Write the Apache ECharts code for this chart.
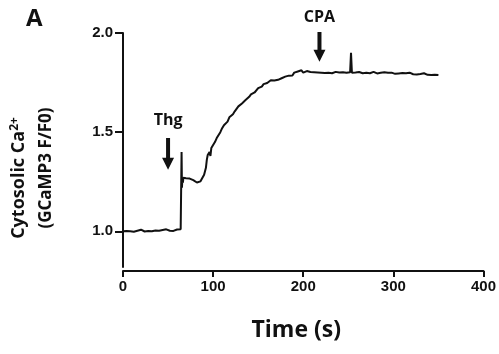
<!DOCTYPE html>
<html><head><meta charset="utf-8">
<script src="https://cdn.jsdelivr.net/npm/echarts@6/dist/echarts.min.js"></script>
<style>html,body{margin:0;padding:0;background:#fff}#c{width:499px;height:354px}</style>
</head><body><div id="c"></div>
<script>
// time (s)
var timeS = [
 0,2,4,6,8,10,12,14,16,18,20,22,24,26,28,30,32,34,36,38,40,42,44,46,48,50,52,54,56,58,60,62,64,
 64.8,65,65.4,65.8,66.5,67,68,70,72,74,76,78,80,82,84,86,88,90,92,93,94,96,97,98,100,102,104,106,108,110,
 112,114,116,118,120,122,124,126,128,130,132,134,136,138,140,142,144,146,148,150,152,154,156,158,160,
 162,164,166,168,170,172,174,176,178,180,182,184,186,188,190,192,194,196,198,200,202,204,206,208,210,
 212,214,216,218,220,222,224,226,228,230,232,234,236,238,240,242,244,246,248,250,252,253,254,256,258,260,
 262,264,266,268,270,272,274,276,278,280,282,284,286,288,290,292,294,296,298,300,302,304,306,308,310,
 312,314,316,318,320,322,324,326,328,330,332,334,336,338,340,342,344,346,348,350
];
// cytosolic Ca2+ (GCaMP3 F/F0)
var ratio = [
 1.000,0.998,1.001,0.999,1.000,1.002,0.998,1.000,1.003,0.999,1.008,1.000,0.999,1.004,1.001,1.009,1.000,1.002,1.004,0.999,1.003,1.001,1.007,1.000,1.010,1.001,1.003,1.008,1.002,1.004,1.009,1.006,1.010,
 1.005,1.400,1.220,1.260,1.245,1.270,1.265,1.268,1.265,1.266,1.262,1.258,1.250,1.246,1.244,1.252,1.262,1.285,1.320,1.360,1.385,1.400,1.380,1.420,1.435,1.450,1.470,1.478,1.500,1.520,
 1.535,1.545,1.553,1.575,1.585,1.590,1.605,1.612,1.630,1.634,1.645,1.650,1.662,1.668,1.678,1.690,1.688,1.700,1.710,1.722,1.718,1.730,1.742,1.738,1.748,
 1.750,1.762,1.756,1.760,1.766,1.764,1.770,1.772,1.776,1.780,1.778,1.785,1.790,1.786,1.800,1.793,1.806,1.798,1.812,1.800,1.796,1.808,1.800,1.803,1.798,
 1.802,1.799,1.801,1.797,1.800,1.803,1.798,1.801,1.799,1.802,1.797,1.800,1.804,1.799,1.801,1.798,1.802,1.800,1.799,1.801,1.802,1.900,1.800,1.798,1.801,1.799,
 1.803,1.800,1.797,1.806,1.799,1.801,1.797,1.800,1.804,1.798,1.796,1.801,1.799,1.797,1.802,1.795,1.799,1.796,1.800,1.797,1.794,1.801,1.796,1.794,1.798,
 1.793,1.797,1.792,1.800,1.794,1.792,1.796,1.791,1.795,1.793,1.790,1.797,1.791,1.789,1.794,1.788,1.792,1.789,1.787,1.788
];
var xTicks = [0,100,200,300,400];
var yTicks = [1.0,1.5,2.0];
// annotations: [label, time, label value, arrow top value, arrow tip value]
var notes = [
 ['Thg', 50, 1.56, 1.47, 1.31],
 ['CPA', 218, 2.08, 2.005, 1.855]
];

var chart = echarts.init(document.getElementById('c'));
var data = timeS.map(function(t,i){return [t, ratio[i]];});
var lab = {fontFamily:'Liberation Sans', fontWeight:'bold', fontSize:15, color:'#111'};
chart.setOption({
  animation:false,
  grid:{left:123, right:15, top:33, bottom:87},
  xAxis:{type:'value', min:0, max:400, interval:100, offset:4,
    name:'Time (s)', nameLocation:'middle', nameGap:48,
    nameTextStyle:{fontFamily:'Open Sans', fontWeight:'bold', fontSize:23, color:'#111', padding:[0,14,0,0]},
    axisLine:{show:true, lineStyle:{color:'#111', width:2}},
    axisTick:{show:true, length:6, lineStyle:{color:'#111', width:2}, customValues:xTicks},
    axisLabel:Object.assign({margin:8, customValues:xTicks}, lab),
    splitLine:{show:false}},
  yAxis:{type:'value', min:0.82, max:2.0,
    axisLine:{show:true, lineStyle:{color:'#111', width:2}},
    axisTick:{show:true, length:8, lineStyle:{color:'#111', width:2}, customValues:yTicks},
    axisLabel:Object.assign({margin:10, customValues:yTicks, formatter:function(v){return v.toFixed(1);}}, lab),
    splitLine:{show:false}},
  series:[{type:'line', data:data, showSymbol:false, symbol:'none',
    lineStyle:{color:'#111', width:2}}]
});

var g = [
  {type:'text', left:26, top:7, style:{text:'A', font:'bold 24px "Open Sans"', fill:'#111'}},
  {type:'text', x:19, y:178, rotation:Math.PI/2, style:{
     text:'Cytosolic Ca{s|2+}', textAlign:'center', textVerticalAlign:'middle',
     font:'bold 18px "Open Sans"', fill:'#111',
     rich:{s:{font:'bold 12px "Open Sans"', verticalAlign:'top', padding:[0,0,8,0]}}}},
  {type:'text', x:46, y:168, rotation:Math.PI/2, style:{
     text:'(GCaMP3 F/F0)', textAlign:'center', textVerticalAlign:'middle',
     font:'bold 17px "Open Sans"', fill:'#111'}}
];
notes.forEach(function(n){
  var pl = chart.convertToPixel({gridIndex:0},[n[1], n[2]]);
  var pt = chart.convertToPixel({gridIndex:0},[n[1], n[3]]);
  var pb = chart.convertToPixel({gridIndex:0},[n[1], n[4]]);
  var x = pt[0], hw = 2, hh = 6, headLen = 12;
  g.push({type:'text', x:pl[0], y:pl[1], style:{text:n[0], textAlign:'center', textVerticalAlign:'middle', font:'bold 16px "Open Sans"', fill:'#111'}});
  g.push({type:'polygon', shape:{points:[[x-hw,pt[1]],[x+hw,pt[1]],[x+hw,pb[1]-headLen],[x+hh,pb[1]-headLen],[x,pb[1]],[x-hh,pb[1]-headLen],[x-hw,pb[1]-headLen]]}, style:{fill:'#111'}});
});
chart.setOption({graphic:g});
</script></body></html>
